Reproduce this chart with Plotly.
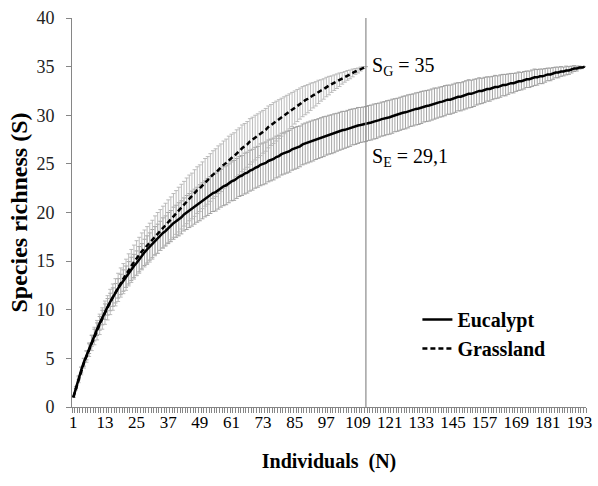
import plotly.graph_objects as go

# ---- data ----
individuals_euc = list(range(1, 196))
richness_euc = [
    1.0, 2.0, 3.0, 3.8, 4.6, 5.3, 6.0, 6.8, 7.4, 8.0,
    8.6, 9.2, 9.8, 10.3, 10.8, 11.3, 11.7, 12.2, 12.6, 13.0,
    13.4, 13.8, 14.2, 14.5, 14.8, 15.2, 15.5, 15.9, 16.2, 16.5,
    16.8, 17.1, 17.3, 17.6, 17.9, 18.1, 18.4, 18.6, 18.9, 19.1,
    19.3, 19.5, 19.8, 20.0, 20.2, 20.4, 20.6, 20.8, 21.0, 21.2,
    21.4, 21.6, 21.8, 22.0, 22.1, 22.3, 22.5, 22.7, 22.8, 23.0,
    23.2, 23.3, 23.5, 23.7, 23.8, 24.0, 24.1, 24.3, 24.4, 24.6,
    24.7, 24.9, 25.0, 25.1, 25.3, 25.4, 25.5, 25.7, 25.8, 26.0,
    26.1, 26.2, 26.3, 26.5, 26.6, 26.7, 26.8, 27.0, 27.1, 27.2,
    27.3, 27.4, 27.5, 27.6, 27.7, 27.8, 27.9, 28.0, 28.05, 28.15,
    28.25, 28.35, 28.45, 28.5, 28.6, 28.7, 28.8, 28.85, 28.95, 29.0,
    29.05, 29.1, 29.2, 29.25, 29.35, 29.4, 29.5, 29.6, 29.65, 29.75,
    29.8, 29.9, 30.0, 30.05, 30.15, 30.25, 30.3, 30.4, 30.5, 30.55,
    30.65, 30.7, 30.8, 30.9, 30.95, 31.0, 31.1, 31.2, 31.25, 31.35,
    31.4, 31.5, 31.6, 31.6, 31.7, 31.8, 31.9, 31.9, 32.0, 32.1,
    32.2, 32.2, 32.3, 32.4, 32.5, 32.5, 32.6, 32.7, 32.7, 32.8,
    32.9, 32.9, 33.0, 33.1, 33.1, 33.2, 33.3, 33.3, 33.4, 33.5,
    33.5, 33.6, 33.7, 33.7, 33.8, 33.9, 33.9, 34.0, 34.0, 34.1,
    34.2, 34.2, 34.3, 34.4, 34.4, 34.5, 34.5, 34.6, 34.6, 34.7,
    34.8, 34.8, 34.9, 34.9, 35.0,
]
sd_euc = [
    0.0, 0.1, 0.2, 0.3, 0.4, 0.45, 0.5, 0.55, 0.6, 0.65,
    0.7, 0.75, 0.8, 0.85, 0.9, 0.95, 1.0, 1.0, 1.05, 1.1,
    1.1, 1.15, 1.2, 1.2, 1.25, 1.3, 1.3, 1.35, 1.4, 1.4,
    1.45, 1.45, 1.5, 1.5, 1.55, 1.55, 1.6, 1.6, 1.65, 1.65,
    1.7, 1.7, 1.7, 1.75, 1.75, 1.8, 1.8, 1.8, 1.85, 1.85,
    1.85, 1.9, 1.9, 1.9, 1.95, 1.95, 1.95, 2.0, 2.0, 2.0,
    2.0, 2.05, 2.05, 2.05, 2.05, 2.1, 2.1, 2.1, 2.1, 2.1,
    2.1, 2.15, 2.15, 2.15, 2.15, 2.15, 2.15, 2.15, 2.15, 2.15,
    2.15, 2.15, 2.15, 2.15, 2.15, 2.15, 2.1, 2.1, 2.1, 2.1,
    2.1, 2.1, 2.05, 2.05, 2.05, 2.05, 2.0, 2.0, 2.0, 2.0,
    1.95, 1.95, 1.95, 1.9, 1.9, 1.9, 1.85, 1.85, 1.85, 1.8,
    1.8, 1.8, 1.8, 1.8, 1.8, 1.8, 1.75, 1.75, 1.75, 1.75,
    1.75, 1.75, 1.7, 1.7, 1.7, 1.7, 1.7, 1.7, 1.65, 1.65,
    1.65, 1.65, 1.65, 1.6, 1.6, 1.6, 1.6, 1.6, 1.55, 1.55,
    1.55, 1.55, 1.5, 1.5, 1.5, 1.5, 1.45, 1.45, 1.45, 1.45,
    1.45, 1.4, 1.4, 1.35, 1.35, 1.3, 1.3, 1.25, 1.25, 1.2,
    1.2, 1.15, 1.15, 1.1, 1.1, 1.05, 1.0, 1.0, 0.95, 0.95,
    0.9, 0.9, 0.85, 0.85, 0.85, 0.85, 0.8, 0.75, 0.75, 0.7,
    0.65, 0.65, 0.6, 0.55, 0.55, 0.5, 0.45, 0.45, 0.4, 0.35,
    0.3, 0.25, 0.15, 0.1, 0.0,
]
individuals_gra = list(range(1, 113))
richness_gra = [
    1.0, 1.9, 2.8, 3.7, 4.5, 5.2, 5.9, 6.6, 7.3, 7.9,
    8.5, 9.1, 9.7, 10.2, 10.8, 11.3, 11.8, 12.3, 12.8, 13.2,
    13.6, 14.1, 14.5, 14.9, 15.3, 15.6, 16.0, 16.3, 16.6, 16.9,
    17.2, 17.6, 17.9, 18.2, 18.5, 18.8, 19.1, 19.4, 19.7, 20.0,
    20.3, 20.6, 20.9, 21.2, 21.5, 21.7, 22.0, 22.3, 22.5, 22.8,
    23.1, 23.3, 23.6, 23.9, 24.1, 24.4, 24.6, 24.9, 25.1, 25.4,
    25.6, 25.8, 26.1, 26.3, 26.6, 26.8, 27.0, 27.3, 27.5, 27.7,
    27.9, 28.1, 28.3, 28.5, 28.8, 29.0, 29.2, 29.4, 29.6, 29.8,
    30.0, 30.2, 30.4, 30.6, 30.8, 31.0, 31.2, 31.4, 31.55, 31.7,
    31.9, 32.05, 32.2, 32.4, 32.55, 32.7, 32.9, 33.05, 33.2, 33.35,
    33.5, 33.65, 33.8, 33.95, 34.1, 34.2, 34.35, 34.5, 34.6, 34.75,
    34.9, 35.0,
]
sd_gra = [
    0.0, 0.15, 0.3, 0.4, 0.5, 0.6, 0.7, 0.8, 0.9, 1.0,
    1.05, 1.1, 1.2, 1.25, 1.3, 1.35, 1.4, 1.45, 1.5, 1.55,
    1.6, 1.65, 1.7, 1.75, 1.8, 1.85, 1.9, 1.9, 1.95, 2.0,
    2.0, 2.05, 2.1, 2.1, 2.15, 2.15, 2.2, 2.2, 2.25, 2.25,
    2.3, 2.3, 2.3, 2.35, 2.35, 2.35, 2.4, 2.4, 2.4, 2.4,
    2.45, 2.45, 2.45, 2.45, 2.45, 2.45, 2.45, 2.45, 2.45, 2.45,
    2.45, 2.4, 2.4, 2.4, 2.4, 2.35, 2.35, 2.35, 2.3, 2.3,
    2.25, 2.25, 2.2, 2.2, 2.15, 2.1, 2.1, 2.05, 2.0, 1.95,
    1.9, 1.85, 1.8, 1.75, 1.7, 1.65, 1.6, 1.55, 1.5, 1.45,
    1.4, 1.3, 1.25, 1.2, 1.1, 1.05, 1.0, 0.95, 0.85, 0.8,
    0.75, 0.7, 0.6, 0.55, 0.5, 0.45, 0.4, 0.3, 0.25, 0.2,
    0.1, 0.0,
]
x_tick_labels = list(range(1, 196, 12))
y_ticks = list(range(0, 41, 5))
label_sg = "S<sub>G</sub> = 35"
label_se = "S<sub>E</sub> = 29,1"
cut_n = 112
sg_value = 35
se_value = 29.1

SERIF = "Liberation Serif, Times New Roman, serif"

fig = go.Figure()

# error-bar hatching (drawn first, lines on top)
fig.add_trace(go.Scatter(
    x=individuals_euc, y=richness_euc, mode="markers",
    marker=dict(size=1, color="rgba(0,0,0,0)"),
    error_y=dict(type="data", array=sd_euc, color="#9a9a9a", thickness=0.9, width=2),
    showlegend=False, hoverinfo="skip"))
fig.add_trace(go.Scatter(
    x=individuals_gra, y=richness_gra, mode="markers",
    marker=dict(size=1, color="rgba(0,0,0,0)"),
    error_y=dict(type="data", array=sd_gra, color="#b4b4b4", thickness=0.9, width=2),
    showlegend=False, hoverinfo="skip"))

fig.add_trace(go.Scatter(
    x=individuals_euc, y=richness_euc, mode="lines", name="Eucalypt",
    line=dict(color="black", width=2.5)))
fig.add_trace(go.Scatter(
    x=individuals_gra, y=richness_gra, mode="lines", name="Grassland",
    line=dict(color="black", width=2.5, dash="5px,3px")))

fig.add_shape(type="line", xref="x", yref="y", x0=cut_n, x1=cut_n, y0=0, y1=40,
              line=dict(color="#8c8c8c", width=1.2))

fig.add_annotation(x=cut_n, y=sg_value, xref="x", yref="y", text=label_sg,
                   showarrow=False, xanchor="left", yanchor="middle", xshift=4,
                   font=dict(family=SERIF, size=20, color="black"))
fig.add_annotation(x=cut_n, y=se_value, xref="x", yref="y", text=label_se,
                   showarrow=False, xanchor="left", yanchor="middle", xshift=4, yshift=-33,
                   font=dict(family=SERIF, size=20, color="black"))

fig.update_layout(
    width=598, height=486,
    margin=dict(l=72, r=6, t=18, b=79),
    paper_bgcolor="white", plot_bgcolor="white",
    font=dict(family=SERIF, color="black"),
    showlegend=True,
    legend=dict(x=0.672, y=0.275, xanchor="left", yanchor="top",
                font=dict(family=SERIF, size=20, color="black", weight="bold"),
                bgcolor="rgba(0,0,0,0)", tracegroupgap=0, itemwidth=30),
    xaxis=dict(
        range=[0.5, 195.5], tickmode="array", tickvals=x_tick_labels,
        ticktext=[str(v) for v in x_tick_labels], ticks="",
        ticklabeloverflow="allow",
        tickfont=dict(family=SERIF, size=17, color="black"),
        showline=True, linecolor="#868686", linewidth=1,
        showgrid=False, zeroline=False,
        minor=dict(tickmode="linear", tick0=0.5, dtick=1, ticks="outside",
                   ticklen=5, tickcolor="#868686", tickwidth=1, showgrid=False),
        title=dict(text="<b>Individuals  (N)</b>", standoff=22,
                   font=dict(family=SERIF, size=20, color="black")),
    ),
    yaxis=dict(
        range=[0, 40], tickmode="array", tickvals=y_ticks, ticks="outside",
        ticklen=5, tickcolor="#868686", ticklabelstandoff=8,
        tickfont=dict(family=SERIF, size=18, color="#222"),
        showline=True, linecolor="#868686", linewidth=1,
        showgrid=False, zeroline=False,
        title=dict(text="<b>Species richness (S)</b>", standoff=2,
                   font=dict(family=SERIF, size=24, color="black")),
    ),
)

fig.write_html("out.html")
